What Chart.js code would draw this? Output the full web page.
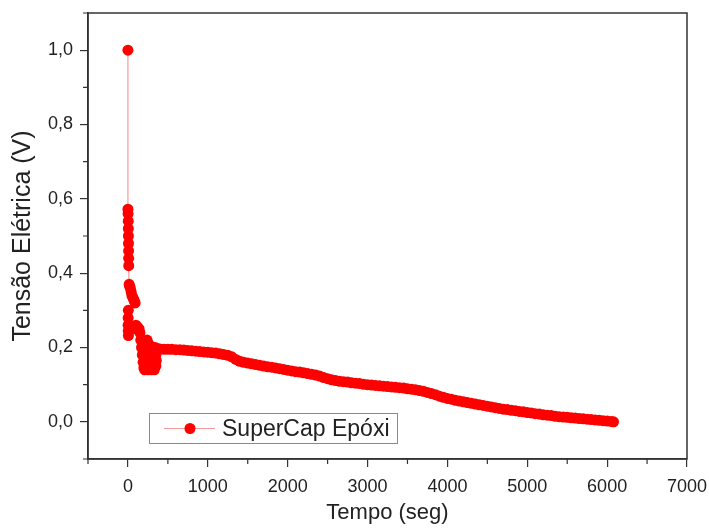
<!DOCTYPE html>
<html>
<head>
<meta charset="utf-8">
<script src="https://cdn.jsdelivr.net/npm/chart.js@4.4.1/dist/chart.umd.min.js"></script>
<style>
  html, body { margin: 0; padding: 0; background: #ffffff; }
  #wrap { position: relative; width: 709px; height: 528px; }
</style>
</head>
<body>
<div id="wrap"><canvas id="c" width="709" height="528"></canvas></div>
<script>
// ---- data ----
const seriesName = 'SuperCap Epóxi';
const xTitle = 'Tempo (seg)';
const yTitle = 'Tensão Elétrica (V)';

const times = [
  0,
  0, 2, 4, 5, 6, 7, 8, 9, 10,
  15, 20, 30, 40, 50, 60, 70, 80, 90,
  5, 3, 2, 4, 6,
  60, 100, 120, 140, 150, 160, 170, 180, 190, 200, 210,
  220, 230, 240, 250, 260, 270, 280, 290, 300, 310, 320, 330, 340, 350, 360,
  240, 260, 280, 300, 320, 340, 355,
  250, 270, 290, 310, 330, 350,
  380, 400, 450, 500, 550, 600, 650, 700, 750, 800, 850, 900, 950,
  1000, 1050, 1100, 1150, 1200, 1250, 1300, 1350, 1400, 1450,
  1500, 1550, 1600, 1650, 1700, 1750, 1800, 1850, 1900, 1950,
  2000, 2050, 2100, 2150, 2200, 2250, 2300, 2350, 2400, 2450,
  2500, 2550, 2600, 2650, 2700, 2750, 2800, 2850, 2900, 2950,
  3000, 3050, 3100, 3150, 3200, 3250, 3300, 3350, 3400, 3450,
  3500, 3550, 3600, 3650, 3700, 3750, 3800, 3850, 3900, 3950,
  4000, 4050, 4100, 4150, 4200, 4250, 4300, 4350, 4400, 4450,
  4500, 4550, 4600, 4650, 4700, 4750, 4800, 4850, 4900, 4950,
  5000, 5050, 5100, 5150, 5200, 5250, 5300, 5350, 5400, 5450,
  5500, 5550, 5600, 5650, 5700, 5750, 5800, 5850, 5900, 5950,
  6000, 6050, 6080
];
const volts = [
  1.0,
  0.572, 0.56, 0.54, 0.52, 0.50, 0.48, 0.46, 0.44, 0.42,
  0.37, 0.365, 0.36, 0.35, 0.34, 0.335, 0.33, 0.325, 0.32,
  0.30, 0.28, 0.26, 0.245, 0.232,
  0.25, 0.26, 0.255, 0.25, 0.24, 0.22, 0.20, 0.18, 0.16, 0.145, 0.14,
  0.20, 0.15, 0.22, 0.14, 0.21, 0.145, 0.20, 0.14, 0.19, 0.145, 0.20, 0.14, 0.20, 0.15, 0.19,
  0.175, 0.165, 0.18, 0.165, 0.175, 0.17, 0.165,
  0.19, 0.185, 0.18, 0.185, 0.18, 0.18,
  0.196, 0.196, 0.195, 0.195, 0.195, 0.194, 0.194, 0.193, 0.192, 0.191, 0.190, 0.189, 0.188,
  0.187, 0.186, 0.185, 0.183, 0.181, 0.179, 0.175, 0.168, 0.163, 0.160,
  0.158, 0.156, 0.154, 0.152, 0.150, 0.148, 0.147, 0.145, 0.143, 0.141,
  0.139, 0.137, 0.135, 0.134, 0.132, 0.130, 0.128, 0.126, 0.123, 0.119,
  0.116, 0.113, 0.111, 0.109, 0.108, 0.107, 0.105, 0.104, 0.103, 0.101,
  0.100, 0.099, 0.098, 0.097, 0.096, 0.095, 0.094, 0.093, 0.092, 0.091,
  0.089, 0.088, 0.086, 0.084, 0.082, 0.079, 0.076, 0.073, 0.069, 0.066,
  0.063, 0.061, 0.058, 0.056, 0.054, 0.052, 0.050, 0.048, 0.046, 0.044,
  0.042, 0.040, 0.038, 0.036, 0.034, 0.033, 0.031, 0.030, 0.028, 0.027,
  0.025, 0.024, 0.022, 0.021, 0.019, 0.018, 0.017, 0.015, 0.014, 0.013,
  0.012, 0.011, 0.010, 0.009, 0.008, 0.007, 0.006, 0.005, 0.004, 0.003,
  0.002, 0.001, 0.000
];

const xTicks = [0, 1000, 2000, 3000, 4000, 5000, 6000, 7000];
const xMinorTicks = [-500, 500, 1500, 2500, 3500, 4500, 5500, 6500];
const yTicks = [0, 0.2, 0.4, 0.6, 0.8, 1.0];
const yMinorTicks = [-0.1, 0.1, 0.3, 0.5, 0.7, 0.9, 1.1];

// ---- styles ----
const RED = '#ff0000';
const LINE = 'rgba(240,120,120,0.75)';
const AXIS = '#333333';
const TXT = '#222222';
const FONT = "'Liberation Sans', Arial, sans-serif";

const points = times.map((t, i) => ({ x: t, y: volts[i] }));

const framePlugin = {
  id: 'frameMinorLegend',
  afterDraw(chart) {
    const { ctx, chartArea: a, scales } = chart;
    ctx.save();
    // frame
    ctx.strokeStyle = AXIS;
    ctx.lineWidth = 1.5;
    ctx.strokeRect(a.left, a.top, a.right - a.left, a.bottom - a.top);
    // minor ticks
    ctx.lineWidth = 1.2;
    ctx.beginPath();
    xMinorTicks.forEach(v => {
      const px = scales.x.getPixelForValue(v);
      ctx.moveTo(px, a.bottom);
      ctx.lineTo(px, a.bottom + 5);
    });
    yMinorTicks.forEach(v => {
      const py = scales.y.getPixelForValue(v);
      ctx.moveTo(a.left, py);
      ctx.lineTo(a.left - 5, py);
    });
    ctx.stroke();
    // legend
    const bx = 149, by = 413, bw = 248, bh = 30;
    ctx.fillStyle = '#ffffff';
    ctx.fillRect(bx, by, bw, bh);
    ctx.strokeStyle = '#8a8a8a';
    ctx.lineWidth = 1;
    ctx.strokeRect(bx + 0.5, by + 0.5, bw, bh);
    const ly = by + bh / 2 + 0.5;
    ctx.strokeStyle = LINE;
    ctx.lineWidth = 1.2;
    ctx.beginPath();
    ctx.moveTo(164, ly);
    ctx.lineTo(215, ly);
    ctx.stroke();
    ctx.fillStyle = RED;
    ctx.beginPath();
    ctx.arc(190, ly, 5.5, 0, Math.PI * 2);
    ctx.fill();
    ctx.fillStyle = TXT;
    ctx.font = '23px ' + FONT;
    ctx.textBaseline = 'middle';
    ctx.textAlign = 'left';
    ctx.fillText(seriesName, 222, ly + 1);
    ctx.restore();
  }
};

new Chart(document.getElementById('c'), {
  type: 'scatter',
  data: {
    datasets: [{
      label: seriesName,
      data: points,
      showLine: true,
      borderColor: LINE,
      borderWidth: 1.2,
      pointRadius: 5.5,
      pointBackgroundColor: RED,
      pointBorderColor: RED,
      pointBorderWidth: 0,
      pointHoverRadius: 5.5,
      tension: 0
    }]
  },
  options: {
    responsive: false,
    animation: false,
    events: [],
    layout: { padding: { top: 13, right: 22, left: 0, bottom: 0 } },
    plugins: {
      legend: { display: false },
      tooltip: { enabled: false }
    },
    scales: {
      x: {
        type: 'linear',
        position: 'bottom',
        min: -500,
        max: 7000,
        afterBuildTicks: s => { s.ticks = xTicks.map(v => ({ value: v })); },
        afterFit: s => { s.height = 69; s.paddingLeft = 0; s.paddingRight = 0; },
        ticks: {
          font: { family: FONT, size: 18 },
          color: TXT,
          padding: 9,
          maxRotation: 0,
          autoSkip: false,
          callback: v => String(v)
        },
        grid: { drawOnChartArea: false, drawTicks: true, tickLength: 8, color: AXIS, lineWidth: 1.2 },
        border: { display: true, color: AXIS, width: 1.5 },
        title: {
          display: true,
          text: xTitle,
          color: TXT,
          font: { family: FONT, size: 22 },
          padding: { top: 0, bottom: 2 }
        }
      },
      y: {
        type: 'linear',
        min: -0.1,
        max: 1.1,
        afterBuildTicks: s => { s.ticks = yTicks.map(v => ({ value: v })); },
        afterFit: s => { s.width = 88; s.paddingTop = 0; s.paddingBottom = 0; },
        ticks: {
          font: { family: FONT, size: 18 },
          color: TXT,
          padding: 7,
          autoSkip: false,
          callback: v => Number(v).toFixed(1).replace('.', ',')
        },
        grid: { drawOnChartArea: false, drawTicks: true, tickLength: 8, color: AXIS, lineWidth: 1.2 },
        border: { display: true, color: AXIS, width: 1.5 },
        title: {
          display: true,
          text: yTitle,
          color: TXT,
          font: { family: FONT, size: 25 },
          padding: { top: 8, bottom: 0 }
        }
      }
    }
  },
  plugins: [framePlugin]
});
</script>
</body>
</html>
